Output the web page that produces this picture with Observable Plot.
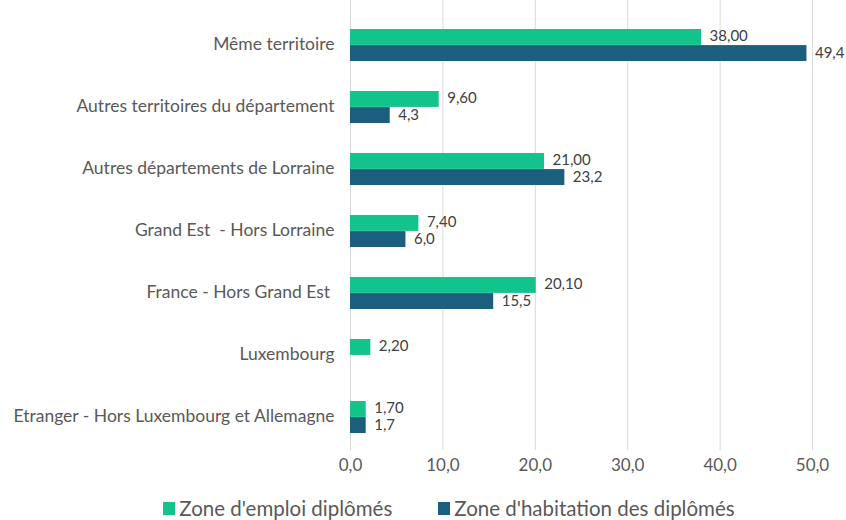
<!DOCTYPE html>
<html>
<head>
<meta charset="utf-8">
<script src="https://cdn.jsdelivr.net/npm/d3@7"></script>
<script src="https://cdn.jsdelivr.net/npm/@observablehq/plot@0.6"></script>
<style>
  body { margin: 0; background: #fff; font-family: Lato, "Open Sans", sans-serif; overflow: hidden; position: relative; width: 846px; height: 520px; }
  #chart svg { display: block; }
  #legend { position: absolute; left: 0; top: 497px; width: 846px; display: flex; justify-content: center; gap: 46px; padding-left: 52px; box-sizing: border-box; font-size: 20.5px; color: #595959; line-height: 22px; }
  #legend span.item { display: flex; align-items: center; }
  #legend span.sw { display: inline-block; width: 12px; height: 13px; margin-right: 4px; }
</style>
</head>
<body>
<div id="chart"></div>
<div id="legend"></div>
<script>
const categories = [
  "Même territoire",
  "Autres territoires du département",
  "Autres départements de Lorraine",
  "Grand Est  - Hors Lorraine",
  "France - Hors Grand Est ",
  "Luxembourg",
  "Etranger - Hors Luxembourg et Allemagne"
];
const seriesNames = ["Zone d'emploi diplômés", "Zone d'habitation des diplômés"];
const emploi = [38.00, 9.60, 21.00, 7.40, 20.10, 2.20, 1.70];
const habitation = [49.4, 4.3, 23.2, 6.0, 15.5, null, 1.7];
const xTicks = [0, 10, 20, 30, 40, 50];
const colors = ["#12c48b", "#1b5e7e"];

const rows = [];
categories.forEach((c, i) => {
  if (emploi[i] != null) rows.push({cat: c, series: seriesNames[0], value: emploi[i], label: emploi[i].toFixed(2).replace(".", ",")});
  if (habitation[i] != null) rows.push({cat: c, series: seriesNames[1], value: habitation[i], label: habitation[i].toFixed(1).replace(".", ",")});
});

const fmt = d => d.toFixed(1).replace(".", ",");

const chart = Plot.plot({
  width: 846,
  height: 490,
  marginLeft: 350,
  marginRight: 34,
  marginTop: 0,
  marginBottom: 40,
  style: {fontFamily: "Lato, 'Open Sans', sans-serif", fontSize: "16px", color: "#595959", background: "#fff"},
  x: {domain: [0, 50], label: null},
  y: {domain: categories, range: [11.7, 450.3], paddingInner: 0.4894, paddingOuter: 0.2447, label: null},
  color: {domain: seriesNames, range: colors},
  marks: [
    Plot.gridX(xTicks, {stroke: "#d9d9d9", strokeOpacity: 1}),
    Plot.axisX(xTicks, {tickFormat: fmt, tickSize: 0, tickPadding: 8, label: null, fontSize: 17}),
    Plot.axisY({tickSize: 0, tickPadding: 16, label: null, fontSize: 17.5, dy: -1.5}),
    Plot.barX(rows.filter(d => d.series === seriesNames[0]), {x: "value", y: "cat", fill: "series", insetBottom: 16.1}),
    Plot.barX(rows.filter(d => d.series === seriesNames[1]), {x: "value", y: "cat", fill: "series", insetTop: 16.1}),
    Plot.text(rows.filter(d => d.series === seriesNames[0]), {x: "value", y: "cat", text: "label", dx: 8, dy: -9.5, textAnchor: "start", fill: "#404040", fontSize: 15}),
    Plot.text(rows.filter(d => d.series === seriesNames[1]), {x: "value", y: "cat", text: "label", dx: 8, dy: 7.5, textAnchor: "start", fill: "#404040", fontSize: 15})
  ]
});
document.getElementById("chart").appendChild(chart);

const legend = document.getElementById("legend");
seriesNames.forEach((s, i) => {
  const item = document.createElement("span");
  item.className = "item";
  const sw = document.createElement("span");
  sw.className = "sw";
  sw.style.background = colors[i];
  item.appendChild(sw);
  item.appendChild(document.createTextNode(s));
  legend.appendChild(item);
});
</script>
</body>
</html>
